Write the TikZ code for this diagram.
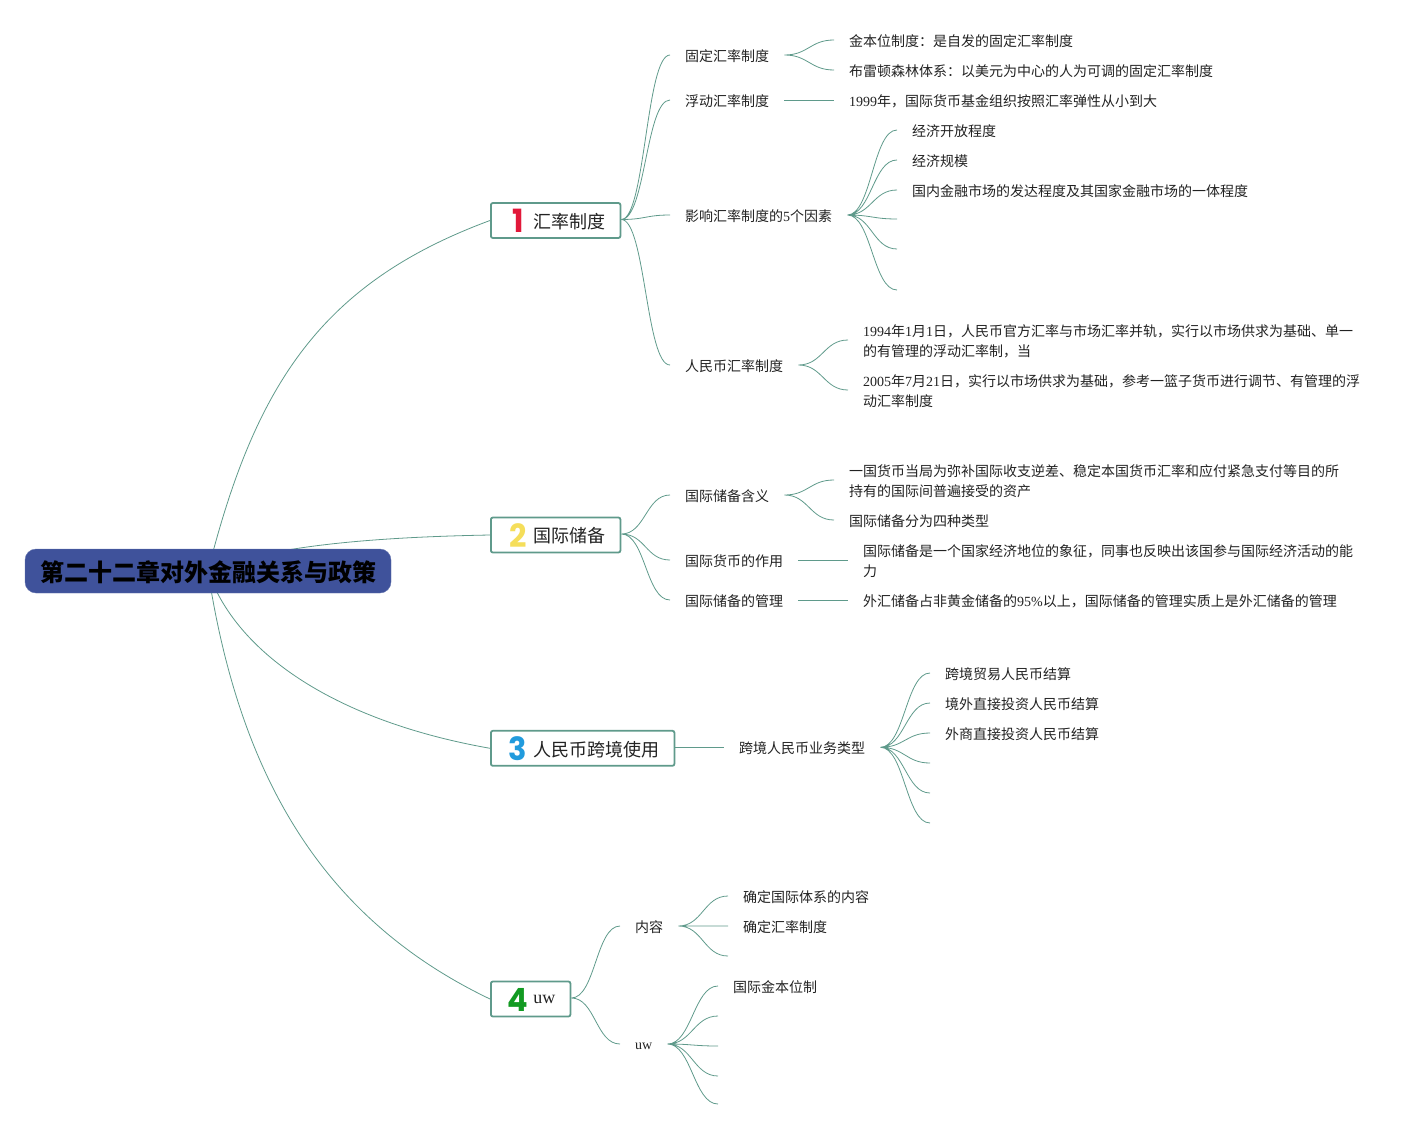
\documentclass[tikz,border=0pt]{standalone}
\usepackage{fontspec}
\setmainfont{Noto Sans CJK SC}
\newfontfamily\latinfont{Liberation Serif}
\newfontfamily\numfont{Poppins}
\usetikzlibrary{backgrounds}
\definecolor{linkgreen}{HTML}{5F9A8B}
\definecolor{rootblue}{HTML}{3F529B}
\definecolor{inkgrey}{HTML}{222222}
\definecolor{numred}{HTML}{E2183A}
\definecolor{numyellow}{HTML}{F5DE5A}
\definecolor{numblue}{HTML}{219BDD}
\definecolor{numgreen}{HTML}{129A22}
\newcommand{\lat}[1]{{\latinfont #1}}
\newcommand{\num}[2]{\makebox[24pt]{\smash{\raisebox{-4.5pt}{\fontsize{32}{32}\numfont\bfseries\color{#1}\scalebox{.95}[1]{#2}}}}\hspace{3.5pt}}
\begin{document}
\begin{tikzpicture}[x=1pt,y=-1pt]

\tikzstyle{root}=[fill=rootblue,draw=rootblue!80!white,rounded corners=11pt,minimum height=44pt,text height=20pt,text depth=0pt,inner xsep=15pt,inner ysep=0pt,font=\fontsize{24}{28}\selectfont\bfseries,text=black]
\tikzstyle{topic}=[fill=white,draw=linkgreen,line width=1.8pt,rounded corners=2pt,anchor=west,minimum height=35pt,text height=15.6pt,text depth=0pt,inner xsep=15pt,inner ysep=0pt,font=\fontsize{18}{22}\selectfont,text=inkgrey]
\tikzstyle{leaf}=[anchor=west,inner xsep=15pt,inner ysep=0pt,align=left,font=\fontsize{14}{20}\selectfont,text=inkgrey]
\tikzstyle{link}=[draw=linkgreen,line width=.8pt,out=0,in=180,distance=24pt,transform canvas={yshift=1pt}]
\tikzstyle{rootlink}=[draw=linkgreen,line width=.8pt]

\useasboundingbox (0,0) rectangle (1423,1129);

\node[root] (nroot) at (208,571) {第二十二章对外金融关系与政策};

% topic 1
\node[topic] (na) at (490,220.5) {\num{numred}{1}汇率制度};
\node[leaf] (na1) at (670,56) {固定汇率制度};
\node[leaf] (na2) at (670,101) {浮动汇率制度};
\node[leaf] (na3) at (670,216) {影响汇率制度的\lat{5}个因素};
\node[leaf] (na4) at (670,366) {人民币汇率制度};
\node[leaf] (na11) at (834,41) {金本位制度：是自发的固定汇率制度};
\node[leaf] (na12) at (834,71) {布雷顿森林体系：以美元为中心的人为可调的固定汇率制度};
\node[leaf] (na21) at (834,101) {\lat{1999}年，国际货币基金组织按照汇率弹性从小到大};
\node[leaf] (na31) at (897,131) {经济开放程度};
\node[leaf] (na32) at (897,161) {经济规模};
\node[leaf] (na33) at (897,191) {国内金融市场的发达程度及其国家金融市场的一体程度};
\coordinate (na34) at (897,220);
\coordinate (na35) at (897,250);
\coordinate (na36) at (897,291);
\node[leaf] (na41) at (848,341) {\lat{1994}年\lat{1}月\lat{1}日，人民币官方汇率与市场汇率并轨，实行以市场供求为基础、单一\\的有管理的浮动汇率制，当};
\node[leaf] (na42) at (848,391) {\lat{2005}年\lat{7}月\lat{21}日，实行以市场供求为基础，参考一篮子货币进行调节、有管理的浮\\动汇率制度};

% topic 2
\node[topic] (nb) at (490,535) {\num{numyellow}{2}国际储备};
\node[leaf] (nb1) at (670,496) {国际储备含义};
\node[leaf] (nb2) at (670,561) {国际货币的作用};
\node[leaf] (nb3) at (670,601) {国际储备的管理};
\node[leaf] (nb11) at (834,481) {一国货币当局为弥补国际收支逆差、稳定本国货币汇率和应付紧急支付等目的所\\持有的国际间普遍接受的资产};
\node[leaf] (nb12) at (834,521) {国际储备分为四种类型};
\node[leaf] (nb21) at (848,561) {国际储备是一个国家经济地位的象征，同事也反映出该国参与国际经济活动的能\\力};
\node[leaf] (nb31) at (848,601) {外汇储备占非黄金储备的\lat{95\%}以上，国际储备的管理实质上是外汇储备的管理};

% topic 3
\node[topic] (nc) at (490,748.3) {\num{numblue}{3}人民币跨境使用};
\node[leaf] (nc1) at (724,748.3) {跨境人民币业务类型};
\node[leaf] (nc11) at (930,674) {跨境贸易人民币结算};
\node[leaf] (nc12) at (930,704) {境外直接投资人民币结算};
\node[leaf] (nc13) at (930,734) {外商直接投资人民币结算};
\coordinate (nc14) at (930,764);
\coordinate (nc15) at (930,794);
\coordinate (nc16) at (930,824);

% topic 4
\node[topic] (nd) at (490,999) {\num{numgreen}{4}\raisebox{3pt}{\lat{uw}}};
\node[leaf] (nd1) at (620,927) {内容};
\node[leaf,text height=8pt,text depth=0pt] (nd2) at (620,1045) {\lat{uw}};
\node[leaf] (nd11) at (728,897) {确定国际体系的内容};
\node[leaf] (nd12) at (728,927) {确定汇率制度};
\coordinate (nd13) at (728,957);
\node[leaf] (nd21) at (718,987) {国际金本位制};
\coordinate (nd22) at (718,1017);
\coordinate (nd23) at (718,1047);
\coordinate (nd24) at (718,1077);
\coordinate (nd25) at (718,1105);

\begin{scope}[on background layer]
\draw[rootlink] (nroot.center) .. controls (255,385) and (321,283) .. (na.west);
\draw[rootlink] (nroot.center) .. controls (270,545) and (380,537) .. (nb.west);
\draw[rootlink] (nroot.center) .. controls (235,650) and (330,720) .. (nc.west);
\draw[rootlink] (nroot.center) .. controls (240,780) and (325,920) .. (nd.west);
\end{scope}

\draw[link] (na.east) to (na1.west) (na.east) to (na2.west) (na.east) to (na3.west) (na.east) to (na4.west);
\draw[link] (na1.east) to (na11.west) (na1.east) to (na12.west);
\draw[link] (na2.east) to (na21.west);
\draw[link] (na3.east) to (na31.west) (na3.east) to (na32.west) (na3.east) to (na33.west) (na3.east) to (na34) (na3.east) to (na35) (na3.east) to (na36);
\draw[link] (na4.east) to (na41.west) (na4.east) to (na42.west);

\draw[link] (nb.east) to (nb1.west) (nb.east) to (nb2.west) (nb.east) to (nb3.west);
\draw[link] (nb1.east) to (nb11.west) (nb1.east) to (nb12.west);
\draw[link] (nb2.east) to (nb21.west);
\draw[link] (nb3.east) to (nb31.west);

\draw[link] (nc.east) to (nc1.west);
\draw[link] (nc1.east) to (nc11.west) (nc1.east) to (nc12.west) (nc1.east) to (nc13.west) (nc1.east) to (nc14) (nc1.east) to (nc15) (nc1.east) to (nc16);

\draw[link] (nd.east) to (nd1.west) (nd.east) to (nd2.west);
\draw[link] (nd1.east) to (nd11.west) (nd1.east) to (nd12.west) (nd1.east) to (nd13);
\draw[link] (nd2.east) to (nd21.west) (nd2.east) to (nd22) (nd2.east) to (nd23) (nd2.east) to (nd24) (nd2.east) to (nd25);
\end{tikzpicture}
\end{document}
